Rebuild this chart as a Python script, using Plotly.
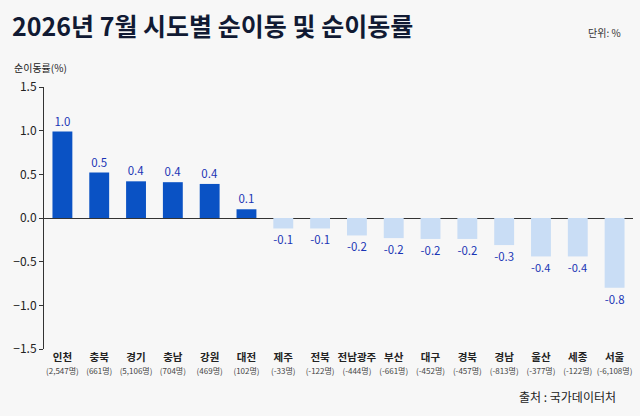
import plotly.graph_objects as go

# 2026년 7월 시도별 순이동률(%) 및 순이동(명)
regions = ['인천', '충북', '경기', '충남', '강원', '대전', '제주', '전북',
           '전남광주', '부산', '대구', '경북', '경남', '울산', '세종', '서울']
net_rate = [0.99, 0.52, 0.42, 0.41, 0.39, 0.10, -0.12, -0.12,
            -0.20, -0.23, -0.24, -0.24, -0.31, -0.44, -0.44, -0.80]
net_people = ['2,547', '661', '5,106', '704', '469', '102', '-33', '-122',
              '-444', '-661', '-452', '-457', '-813', '-377', '-122', '-6,108']
y_ticks = [1.5, 1.0, 0.5, 0.0, -0.5, -1.0, -1.5]

font_kr = 'Noto Sans CJK KR'
pos_color = '#0a52c4'
neg_color = '#c9ddf5'
label_color = '#1a35b5'

bar_colors = [pos_color if v >= 0 else neg_color for v in net_rate]
tick_text = [f"<b>{r}</b><br><span style='font-size:8px;color:#444'>({p}명)</span>"
             for r, p in zip(regions, net_people)]

fig = go.Figure()
fig.add_trace(go.Bar(x=regions, y=net_rate, marker=dict(color=bar_colors, line=dict(width=0)),
                     width=0.54, texttemplate='%{y:.1f}', textposition='outside',
                     textfont=dict(color=label_color, size=11.5, family=font_kr),
                     cliponaxis=False, showlegend=False))

fig.update_layout(
    width=640, height=416,
    margin=dict(l=44, r=7, t=87, b=67),
    paper_bgcolor='#f7f7f7', plot_bgcolor='#f7f7f7',
    font=dict(family=font_kr, color='#222'),
    xaxis=dict(tickmode='array', tickvals=regions, ticktext=tick_text, tickangle=0,
               tickfont=dict(size=10.5, color='#222'), showline=False, showgrid=False,
               zeroline=False, ticks='', range=[-0.5, 15.5]),
    yaxis=dict(range=[-1.5, 1.5], tickvals=y_ticks, tickformat='.1f',
               showgrid=False, zeroline=True, zerolinecolor='#333', zerolinewidth=1,
               showline=True, linecolor='#333', linewidth=1,
               ticks='outside', ticklen=4, tickcolor='#333',
               tickfont=dict(size=12, color='#222')),
)

fig.add_annotation(text='<b>2026년 7월 시도별 순이동 및 순이동률</b>', xref='paper', yref='paper',
                   x=-34 / 589, y=1 + 62 / 262, xanchor='left', yanchor='middle', showarrow=False,
                   font=dict(size=25, color='#111a33', family=font_kr))
fig.add_annotation(text='단위: %', xref='paper', yref='paper', x=1 - 10 / 589, y=1 + 55 / 262,
                   xanchor='right', yanchor='middle', showarrow=False,
                   font=dict(size=10, color='#333'))
fig.add_annotation(text='순이동률(%)', xref='paper', yref='paper', x=-32 / 589, y=1 + 20 / 262,
                   xanchor='left', yanchor='middle', showarrow=False,
                   font=dict(size=10, color='#222'))
fig.add_annotation(text='출처 : 국가데이터처', xref='paper', yref='paper', x=1 - 15 / 589, y=-47 / 262,
                   xanchor='right', yanchor='middle', showarrow=False,
                   font=dict(size=12, color='#222'))

fig.write_html('out.html', config={'displayModeBar': False},
               post_script="document.body.style.margin='0';document.body.style.background='#f7f7f7';")
